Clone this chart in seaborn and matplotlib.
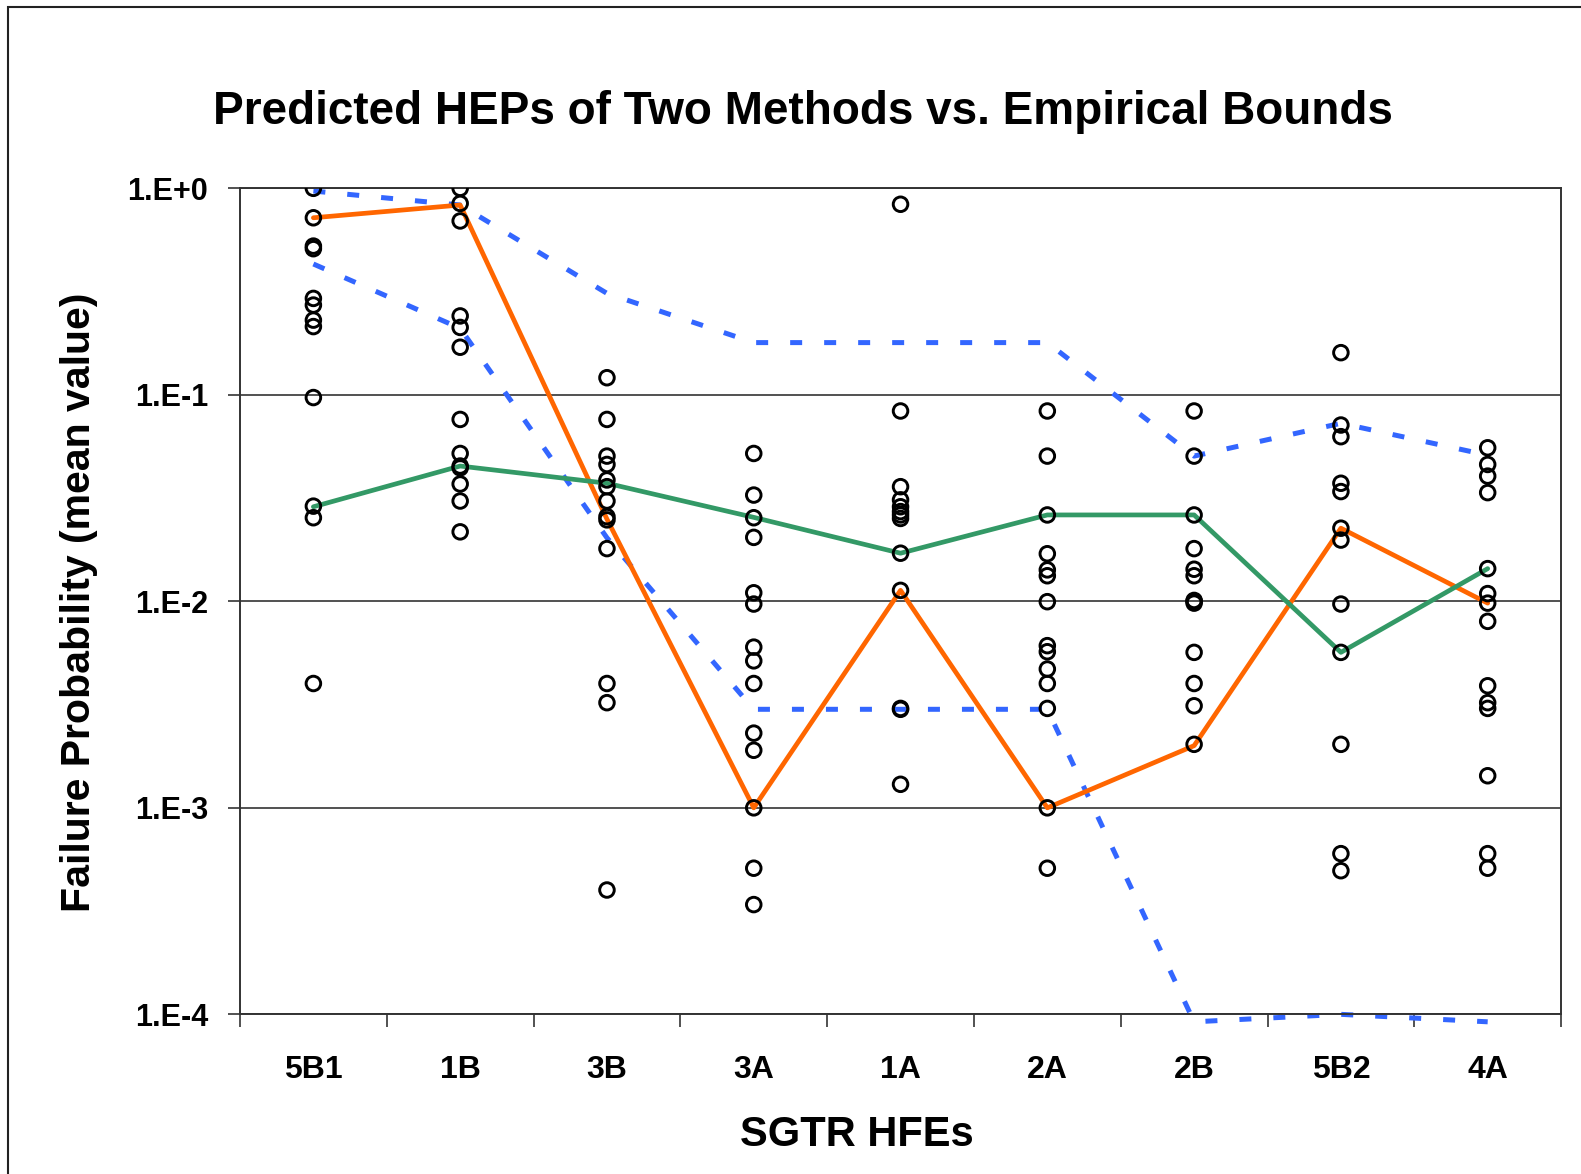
import pandas as pd
import seaborn as sns
import matplotlib.pyplot as plt
from matplotlib.patches import Rectangle
from matplotlib.ticker import FixedLocator

# SGTR HFE categories on the x axis
categories = ['5B1', '1B', '3B', '3A', '1A', '2A', '2B', '5B2', '4A']

# individual predicted HEPs (open circles), one list per HFE
pts_5B1 = [1.0, 0.72, 0.525, 0.51, 0.293, 0.272, 0.23, 0.214, 0.097, 0.0289, 0.0254, 0.004]
pts_1B = [1.0, 0.845, 0.695, 0.241, 0.212, 0.17, 0.076, 0.052, 0.0452, 0.0443, 0.037,
          0.0306, 0.0217]
pts_3B = [0.121, 0.076, 0.0505, 0.046, 0.0387, 0.0359, 0.0306, 0.0257, 0.0248, 0.018,
          0.004, 0.00323, 0.0004]
pts_3A = [0.052, 0.0327, 0.0254, 0.0204, 0.011, 0.0097, 0.006, 0.00515, 0.004, 0.0023,
          0.0019, 0.001, 0.00051, 0.00034]
pts_1A = [0.837, 0.0835, 0.0359, 0.031, 0.0287, 0.0272, 0.0262, 0.0252, 0.0171, 0.0113,
          0.00303, 0.003, 0.0013]
pts_2A = [0.0835, 0.0505, 0.0262, 0.017, 0.0142, 0.0133, 0.00996, 0.0061, 0.0057, 0.0047,
          0.004, 0.00303, 0.001, 0.00051]
pts_2B = [0.0835, 0.0505, 0.0262, 0.018, 0.0143, 0.0133, 0.0101, 0.01, 0.0098, 0.00566,
          0.004, 0.00312, 0.00203]
pts_5B2 = [0.16, 0.0714, 0.0627, 0.0373, 0.034, 0.0226, 0.0198, 0.0097, 0.00566, 0.00203,
           0.0006, 0.000496]
pts_4A = [0.0554, 0.046, 0.0404, 0.0336, 0.0144, 0.0109, 0.0098, 0.008, 0.0039, 0.00323,
          0.00303, 0.00143, 0.0006, 0.00051]

# the two method predictions and the empirical bounds
method_orange = [0.72, 0.83, 0.025, 0.001, 0.0113, 0.001, 0.002, 0.0226, 0.0098]
method_green = [0.0287, 0.0452, 0.0373, 0.0255, 0.0171, 0.0262, 0.0262, 0.00566, 0.0144]
upper_bound = [0.97, 0.83, 0.31, 0.179, 0.179, 0.179, 0.0505, 0.0728, 0.051]
lower_bound = [0.43, 0.21, 0.0203, 0.003, 0.003, 0.003, 0.000092, 0.0001, 0.000092]

y_ticks = [1e-4, 1e-3, 1e-2, 1e-1, 1.0]
y_tick_labels = ['1.E-4', '1.E-3', '1.E-2', '1.E-1', '1.E+0']


def main():
    sns.set_style('white')
    plt.rcParams['font.family'] = ['Liberation Sans', 'DejaVu Sans']
    plt.rcParams['font.weight'] = 'bold'
    plt.rcParams['text.color'] = 'black'
    plt.rcParams['xtick.color'] = 'black'
    plt.rcParams['ytick.color'] = 'black'

    all_pts = [pts_5B1, pts_1B, pts_3B, pts_3A, pts_1A, pts_2A, pts_2B, pts_5B2, pts_4A]
    pts = pd.DataFrame(
        [(i, v) for i, col in enumerate(all_pts) for v in col], columns=['pos', 'hep'])
    lines = pd.DataFrame({
        'pos': range(len(categories)),
        'orange': method_orange,
        'green': method_green,
        'upper': upper_bound,
        'lower': lower_bound,
    })

    fig = plt.figure(figsize=(15.81, 11.74), dpi=100)
    ax = fig.add_axes([0.1518, 0.136, 0.8356, 0.7036])
    ax.set_yscale('log')

    blue = '#3366FF'
    sns.lineplot(data=lines, x='pos', y='upper', ax=ax, color=blue, lw=3.6,
                 dashes=False, zorder=2)
    sns.lineplot(data=lines, x='pos', y='lower', ax=ax, color=blue, lw=3.6,
                 dashes=False, zorder=2)
    for ln in ax.lines:
        ln.set_dashes((2.4, 4.4))
        ln.set_clip_on(False)
    sns.lineplot(data=lines, x='pos', y='orange', ax=ax, color='#FF6600', lw=3.4, zorder=3)
    sns.lineplot(data=lines, x='pos', y='green', ax=ax, color='#339966', lw=3.4, zorder=3)

    sns.scatterplot(data=pts, x='pos', y='hep', ax=ax, marker='o', s=110,
                    facecolors='none', edgecolor='black', linewidth=2.1, zorder=4)

    ax.set_xlim(-0.5, len(categories) - 0.5)
    ax.set_ylim(1e-4, 1.0)

    ax.set_xticks(range(len(categories)))
    ax.set_xticklabels(categories, fontsize=23, fontweight='bold', color='black')
    ax.xaxis.set_minor_locator(FixedLocator([i - 0.5 for i in range(len(categories) + 1)]))
    ax.tick_params(axis='x', which='major', length=0, pad=29)
    ax.tick_params(axis='x', which='minor', length=9, width=1.2, color='#333333',
                   direction='out', bottom=True)

    ax.set_yticks(y_ticks)
    ax.set_yticklabels(y_tick_labels, fontsize=22, fontweight='bold', color='black')
    ax.yaxis.set_minor_locator(FixedLocator([]))
    ax.tick_params(axis='y', which='major', length=9, width=1.2, color='#333333',
                   direction='out', left=True, pad=14)

    ax.grid(axis='y', which='major', color='#222222', lw=1.1)
    ax.grid(axis='x', visible=False)
    for sp in ax.spines.values():
        sp.set_color('#333333')
        sp.set_linewidth(1.4)

    ax.set_xlabel('')
    ax.set_ylabel('')
    fig.text(0.508, 0.905, 'Predicted HEPs of Two Methods vs. Empirical Bounds',
             ha='center', va='center', fontsize=33, fontweight='bold', color='black')
    fig.text(0.542, 0.033, 'SGTR HFEs', ha='center', va='center',
             fontsize=30, fontweight='bold', color='black')
    fig.text(0.050, 0.487, 'Failure Probability (mean value)', ha='center', va='center',
             rotation=90, fontsize=29.5, fontweight='bold', color='black')

    fig.patches.append(Rectangle((8 / 1581, -0.1), 1.2, 0.994 + 0.1,
                                 transform=fig.transFigure, fill=False,
                                 ec='#222222', lw=1.5))

    fig.savefig('out.png', dpi=100)


if __name__ == "__main__":
    main()
